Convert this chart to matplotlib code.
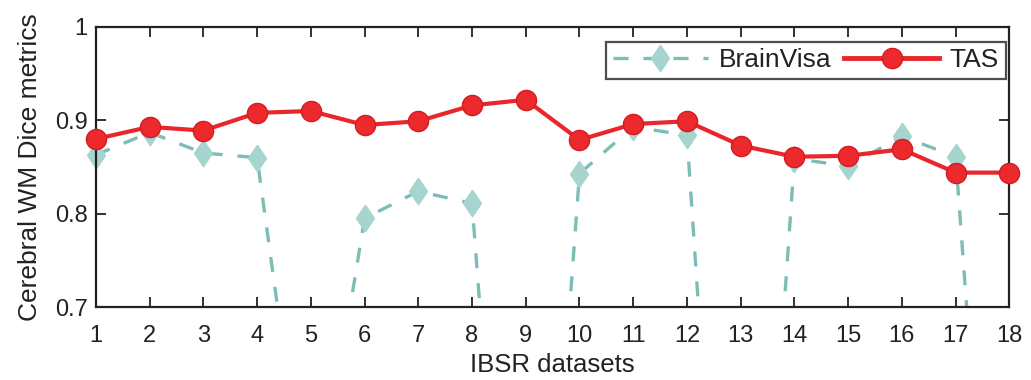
import matplotlib
matplotlib.use("Agg")
import matplotlib.pyplot as plt
from matplotlib.lines import Line2D
import numpy as np

datasets = list(range(1, 19))
brainvisa = [0.863, 0.887, 0.865, 0.860, 0.44, 0.795, 0.824, 0.811, 0.06,
             0.843, 0.893, 0.884, 0.03, 0.859, 0.851, 0.883, 0.861, 0.08]
tas = [0.880, 0.893, 0.889, 0.908, 0.910, 0.895, 0.899, 0.916, 0.922,
       0.879, 0.896, 0.899, 0.873, 0.861, 0.862, 0.869, 0.844, 0.844]
yticks = [0.7, 0.8, 0.9, 1.0]
ytick_labels = ["0.7", "0.8", "0.9", "1"]

plt.rcParams['font.family'] = ['Liberation Sans', 'DejaVu Sans']

TEXT = '#222222'
BV_LINE = '#7dbdb6'
BV_FILL = '#a6d4ce'
RED = '#e8262b'

diamond = [(0, 1), (0.68, 0), (0, -1), (-0.68, 0), (0, 1)]
dash = (0, (4.5, 4.5))

fig = plt.figure(figsize=(10.31, 3.8), dpi=100)
ax = fig.add_axes([0.093, 0.192, 0.886, 0.737])

bv = np.array(brainvisa)
bv_visible = np.where(bv >= 0.7, bv, np.nan)

ax.plot(datasets, brainvisa, linestyle=dash, color=BV_LINE, linewidth=2.4, zorder=2)
ax.plot(datasets, bv_visible, linestyle='none', marker=diamond, markersize=19,
        markerfacecolor=BV_FILL, markeredgecolor=BV_FILL, clip_on=False, zorder=2)
ax.plot(datasets, tas, linestyle='-', color=RED, linewidth=3,
        marker='o', markersize=14.5, markerfacecolor='#ec2a2d', markeredgecolor='#d61b20',
        markeredgewidth=1, clip_on=False, zorder=3)

ax.set_xlim(1, 18)
ax.set_ylim(0.7, 1.0)
ax.set_xticks(datasets)
ax.set_xticklabels([str(d) for d in datasets])
ax.set_yticks(yticks)
ax.set_yticklabels(ytick_labels)
ax.tick_params(direction='in', top=True, right=True, length=7, width=1.3,
               labelsize=17, colors=TEXT)
ax.tick_params(axis='x', pad=13)
ax.tick_params(axis='y', pad=6)
for s in ax.spines.values():
    s.set_linewidth(1.6)
    s.set_color(TEXT)

ax.set_xlabel('IBSR datasets', fontsize=18.5, labelpad=4, color=TEXT)
ax.set_ylabel('Cerebral WM Dice metrics', fontsize=19, labelpad=9, color=TEXT)

h_bv = Line2D([], [], linestyle=dash, color=BV_LINE, linewidth=2.4,
              marker=diamond, markersize=19, markerfacecolor=BV_FILL,
              markeredgecolor=BV_FILL)
h_tas = Line2D([], [], linestyle='-', color=RED, linewidth=3.5, marker='o',
               markersize=14.5, markerfacecolor='#ec2a2d', markeredgecolor='#d61b20')
leg = ax.legend([h_bv, h_tas], ['BrainVisa', 'TAS'], loc='upper right', ncol=2,
                fontsize=19, frameon=True, fancybox=False, edgecolor=TEXT,
                handlelength=3.6, columnspacing=0.5, handletextpad=0.4,
                borderpad=0.25, borderaxespad=0, bbox_to_anchor=(0.996, 0.947))
leg.get_frame().set_linewidth(1.6)
for t in leg.get_texts():
    t.set_color(TEXT)

fig.savefig('out.png', dpi=100)
